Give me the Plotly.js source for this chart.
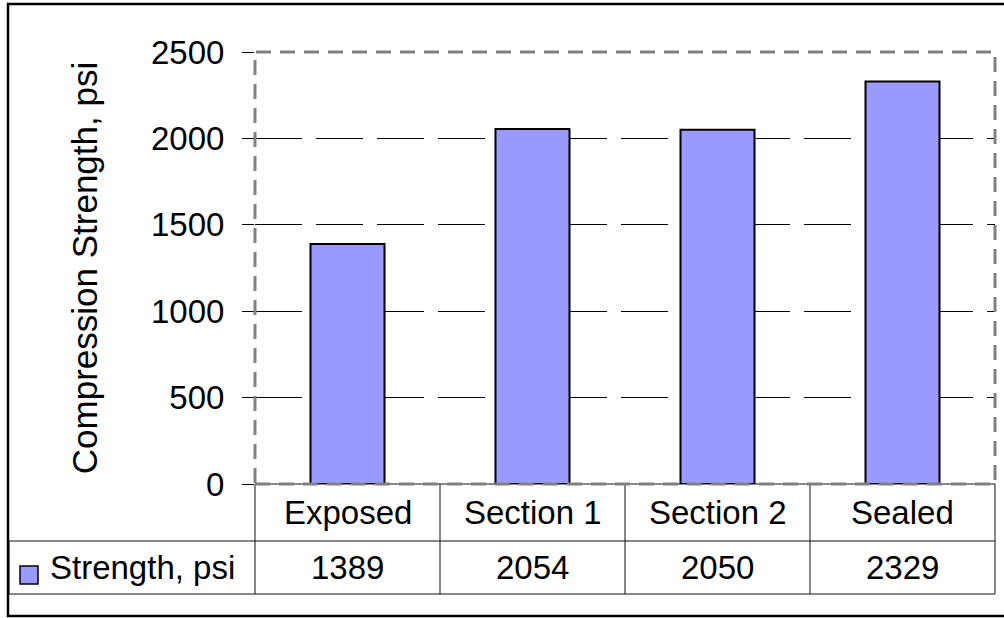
<!DOCTYPE html>
<html>
<head>
<meta charset="utf-8">
<script src="https://cdn.plot.ly/plotly-3.0.1.min.js"></script>
<style>html,body{margin:0;padding:0;background:#fff;}#chart{width:1004px;height:618px;}</style>
</head>
<body>
<div id="chart"></div>
<script>
// ---- data ----
var categories = ["Exposed", "Section 1", "Section 2", "Sealed"];
var strength = [1389, 2054, 2050, 2329];
var seriesName = "Strength, psi";
var yTitle = "Compression Strength, psi";
var yTickVals = [0, 500, 1000, 1500, 2000, 2500];

// ---- layout geometry (pixels) ----
var W = 1004, H = 618;
var L = 255, R = 995, T = 52, B = 484;
function X(px) { return (px - L) / (R - L); }
function Y(py) { return (B - py) / (B - T); }

var FONT = "Liberation Sans, Arial, sans-serif";
var fs = 33;

var rowCatY = 484, rowValY = 541, rowEndY = 594;
var colEdges = [255, 440, 625, 810, 995];

var shapes = [];
var lineStyle = {color: "#111", width: 1};
// table horizontal lines
shapes.push({type: "line", xref: "paper", yref: "paper", x0: X(255), x1: X(995), y0: Y(rowCatY), y1: Y(rowCatY), line: lineStyle});
shapes.push({type: "line", xref: "paper", yref: "paper", x0: X(9), x1: X(995), y0: Y(rowValY), y1: Y(rowValY), line: lineStyle});
shapes.push({type: "line", xref: "paper", yref: "paper", x0: X(9), x1: X(995), y0: Y(rowEndY), y1: Y(rowEndY), line: lineStyle});
// table vertical lines
colEdges.forEach(function (cx) {
  shapes.push({type: "line", xref: "paper", yref: "paper", x0: X(cx), x1: X(cx), y0: Y(rowCatY), y1: Y(rowEndY), line: lineStyle});
});
shapes.push({type: "line", xref: "paper", yref: "paper", x0: X(9), x1: X(9), y0: Y(rowValY), y1: Y(rowEndY), line: lineStyle});
// plot area dashed border
shapes.push({type: "rect", xref: "paper", yref: "paper", x0: 0, x1: 1, y0: 0, y1: 1,
  line: {color: "#808080", width: 3, dash: "15px,9px"}, layer: "above"});
// legend key
shapes.push({type: "rect", xref: "paper", yref: "paper", x0: X(20), x1: X(38), y0: Y(584), y1: Y(566),
  fillcolor: "#9999FF", line: {color: "#000", width: 1.5}});
// outer chart border
shapes.push({type: "rect", xref: "paper", yref: "paper", x0: X(8), x1: X(1012), y0: Y(616), y1: Y(4),
  line: {color: "#000", width: 2.5}});

var annotations = [];
categories.forEach(function (c, i) {
  annotations.push({x: c, xref: "x", y: Y((rowCatY + rowValY) / 2), yref: "paper", text: c, showarrow: false,
    font: {family: FONT, size: fs, color: "#000"}, xanchor: "center", yanchor: "middle"});
  annotations.push({x: c, xref: "x", y: Y((rowValY + rowEndY) / 2), yref: "paper", text: String(strength[i]), showarrow: false,
    font: {family: FONT, size: fs, color: "#000"}, xanchor: "center", yanchor: "middle"});
});
annotations.push({x: X(48), xref: "paper", y: Y((rowValY + rowEndY) / 2), yref: "paper", text: seriesName, showarrow: false,
  font: {family: FONT, size: fs, color: "#000"}, xanchor: "left", yanchor: "middle"});

var trace = {
  type: "bar",
  x: categories,
  y: strength,
  name: seriesName,
  marker: {color: "#9999FF", line: {color: "#000", width: 2}},
  hoverinfo: "x+y"
};

var layout = {
  width: W, height: H,
  margin: {l: L, r: W - R, t: T, b: H - B, pad: 0},
  paper_bgcolor: "#fff",
  plot_bgcolor: "#fff",
  showlegend: false,
  bargap: 0.6,
  font: {family: FONT, size: fs, color: "#000"},
  xaxis: {
    type: "category",
    showticklabels: false,
    ticks: "",
    showgrid: false,
    showline: false,
    zeroline: false,
    fixedrange: true
  },
  yaxis: {
    range: [0, 2500],
    tickvals: yTickVals,
    ticks: "outside",
    ticklen: 12,
    tickwidth: 1,
    tickcolor: "#000",
    ticklabelstandoff: 11,
    tickfont: {family: FONT, size: fs, color: "#000"},
    showgrid: true,
    gridcolor: "#000",
    gridwidth: 1,
    griddash: "47px,14px",
    zeroline: false,
    showline: false,
    title: {text: yTitle, font: {family: FONT, size: 35, color: "#000"}, standoff: 42},
    fixedrange: true
  },
  shapes: shapes,
  annotations: annotations
};

Plotly.newPlot("chart", [trace], layout, {displayModeBar: false, staticPlot: true});
</script>
</body>
</html>
